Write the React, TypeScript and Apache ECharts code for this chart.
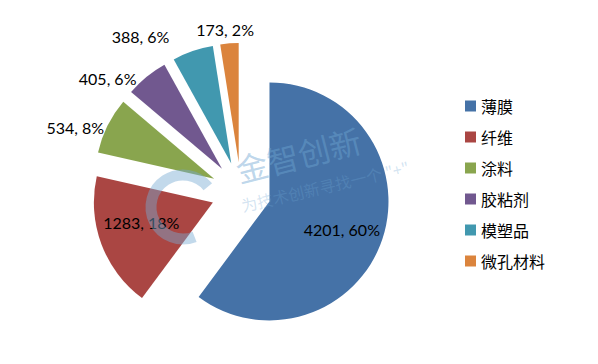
import React, { useEffect, useRef } from "react";
import * as echarts from "echarts";

const categories = ["薄膜", "纤维", "涂料", "胶粘剂", "模塑品", "微孔材料"];
const values = [4201, 1283, 534, 405, 388, 173];
const colors = ["#4572A7", "#AA4643", "#89A54E", "#71588F", "#4198AF", "#DB843D"];
const insideLabel = [true, true, false, false, false, false];
const labelNudge = [
  [13, 8],
  [-13, -2],
  [2, 5],
  [3, -2],
  [4, -20],
  [30, -8],
];

export default function App() {
  const ref = useRef<HTMLDivElement>(null);
  useEffect(() => {
    if (!ref.current) return;
    const chart = echarts.init(ref.current, null, { renderer: "svg" });
    const wm = "rgba(110,165,210,0.45)";
    chart.setOption({
      animation: false,
      backgroundColor: "#ffffff",
      color: colors,
      legend: {
        orient: "vertical",
        left: 460,
        top: 93,
        itemWidth: 11,
        itemHeight: 11,
        itemGap: 15,
        icon: "rect",
        textStyle: { fontFamily: "Noto Sans CJK SC", fontSize: 16, color: "#000" },
        data: categories,
      },
      graphic: [
        {
          type: "text",
          x: 298,
          y: 154,
          rotation: 0.25,
          z: 100,
          style: {
            text: "金智创新",
            fontFamily: "Noto Sans CJK SC",
            fontSize: 32,
            letterSpacing: 6,
            fill: wm,
            textAlign: "center",
            textVerticalAlign: "middle",
          },
        },
        {
          type: "text",
          x: 325,
          y: 186,
          rotation: 0.23,
          z: 100,
          style: {
            text: "为技术创新寻找一个 \"+\"",
            fontFamily: "Noto Sans CJK SC",
            fontSize: 16,
            fill: "rgba(110,165,210,0.3)",
            textAlign: "center",
            textVerticalAlign: "middle",
          },
        },
        {
          type: "arc",
          z: 100,
          shape: { cx: 183, cy: 207, r: 32, startAngle: 1.2, endAngle: 5.6 },
          style: { stroke: "rgba(120,170,210,0.45)", lineWidth: 11, fill: "none" },
        },
      ],
      series: [
        {
          type: "pie",
          center: [241, 192],
          radius: 119,
          startAngle: 90,
          clockwise: true,
          selectedMode: "multiple",
          selectedOffset: 30,
          percentPrecision: 0,
          emphasis: { disabled: true },
          labelLine: { show: false, length: 6, length2: 0 },
          label: {
            formatter: "{c}, {d}%",
            fontFamily: "Lato",
            fontSize: 16,
            color: "#000",
          },
          labelLayout: (params: any) => ({
            dx: labelNudge[params.dataIndex][0],
            dy: labelNudge[params.dataIndex][1],
          }),
          data: categories.map((name, i) => ({
            name,
            value: values[i],
            selected: true,
            label: { position: insideLabel[i] ? "inside" : "outside" },
          })),
        },
      ],
    });
    return () => chart.dispose();
  }, []);
  return (
    <div
      ref={ref}
      style={{ position: "fixed", left: 0, top: 0, width: 598, height: 364 }}
    />
  );
}
